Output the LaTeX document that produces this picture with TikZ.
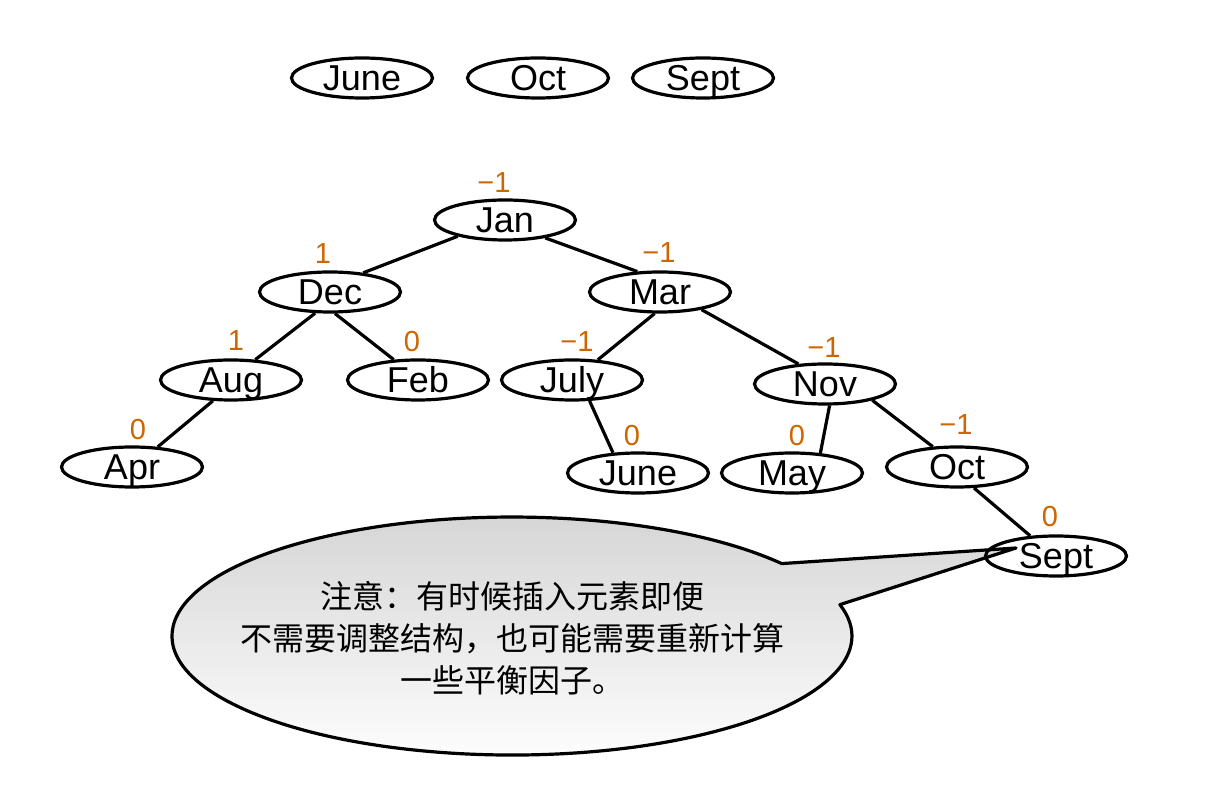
\documentclass[tikz,border=0pt]{standalone}
\usepackage{fontspec}
\setmainfont{Liberation Sans}
\newfontfamily\cjk{Noto Sans CJK SC}
\usetikzlibrary{shapes.geometric}
\definecolor{bal}{RGB}{204,102,0}
\begin{document}
\begin{tikzpicture}[x=1pt,y=1pt,
  key/.style={ellipse,draw=black,line width=3.2pt,minimum width=141pt,minimum height=40pt,inner sep=0pt,
    font=\fontsize{36}{36}\selectfont,text height=25.5pt,text depth=0pt},
  bf/.style={text=bal,inner sep=0pt,font=\fontsize{29}{29}\selectfont},
  edge/.style={line width=3.2pt},
  bubble/.style={draw=black,line width=3.2pt,top color=black!17,bottom color=white,line join=round}]
\useasboundingbox (0,0) rectangle (1216,801);
% callout
\coordinate (tip) at (1016,253);
\draw[bubble] (781.7,237.4) arc[start angle=37.5,end angle=375.3,x radius=340,y radius=119] -- (tip) -- cycle;
\node[font=\cjk\fontsize{32}{42}\selectfont,align=center,inner sep=0pt] (note) at (512,163)
  {注意：有时候插入元素即便\\不需要调整结构，也可能需要重新计算\\一些平衡因子。};
% top row
\node[key] (tJune) at (362,723) {June};
\node[key] (tOct) at (538,723) {Oct};
\node[key] (tSept) at (703,723) {Sept};
% tree
\node[key] (Jan) at (505,581) {Jan};
\node[key] (Dec) at (330,509) {Dec};
\node[key] (Mar) at (660,509) {Mar};
\node[key] (Aug) at (231,421) {Aug};
\node[key] (Feb) at (418,421) {Feb};
\node[key] (July) at (572,421) {July};
\node[key] (Nov) at (825,417) {Nov};
\node[key] (Apr) at (132,334) {Apr};
\node[key] (June) at (638,328) {June};
\node[key] (May) at (792,328) {May};
\node[key] (Oct) at (957,334) {Oct};
\node[key] (Sept) at (1056,245) {Sept};
% edges
\draw[edge] (Jan.199.5) -- (Dec.30.5);
\draw[edge] (Jan.336.8) -- (Mar.138.4);
\draw[edge] (Dec.235) -- (Aug.40.4);
\draw[edge] (Dec.283.4) -- (Feb.140.6);
\draw[edge] (Mar.256.6) -- (July.38.4);
\draw[edge] (Mar.337.3) -- (Nov.143.5);
\draw[edge] (Aug.229.6) -- (Apr.38.9);
\draw[edge] (July.310.4) -- (June.141);
\draw[edge] (Nov.282.8) -- (May.35.9);
\draw[edge] (Nov.341.6) -- (Oct.140);
\draw[edge] (Oct.309.3) -- (Sept.142.4);
% balance factors
\node[bf] (bJan) at (494,618) {−1};
\node[bf] (bDec) at (323,547) {1};
\node[bf] (bMar) at (659,548) {−1};
\node[bf] (bAug) at (236,460) {1};
\node[bf] (bFeb) at (412,459) {0};
\node[bf] (bJuly) at (577,459) {−1};
\node[bf] (bNov) at (824,453) {−1};
\node[bf] (bApr) at (138,371) {0};
\node[bf] (bJune) at (632,365) {0};
\node[bf] (bMay) at (797,365) {0};
\node[bf] (bOct) at (956,376) {−1};
\node[bf] (bSept) at (1050,284) {0};
\end{tikzpicture}
\end{document}
